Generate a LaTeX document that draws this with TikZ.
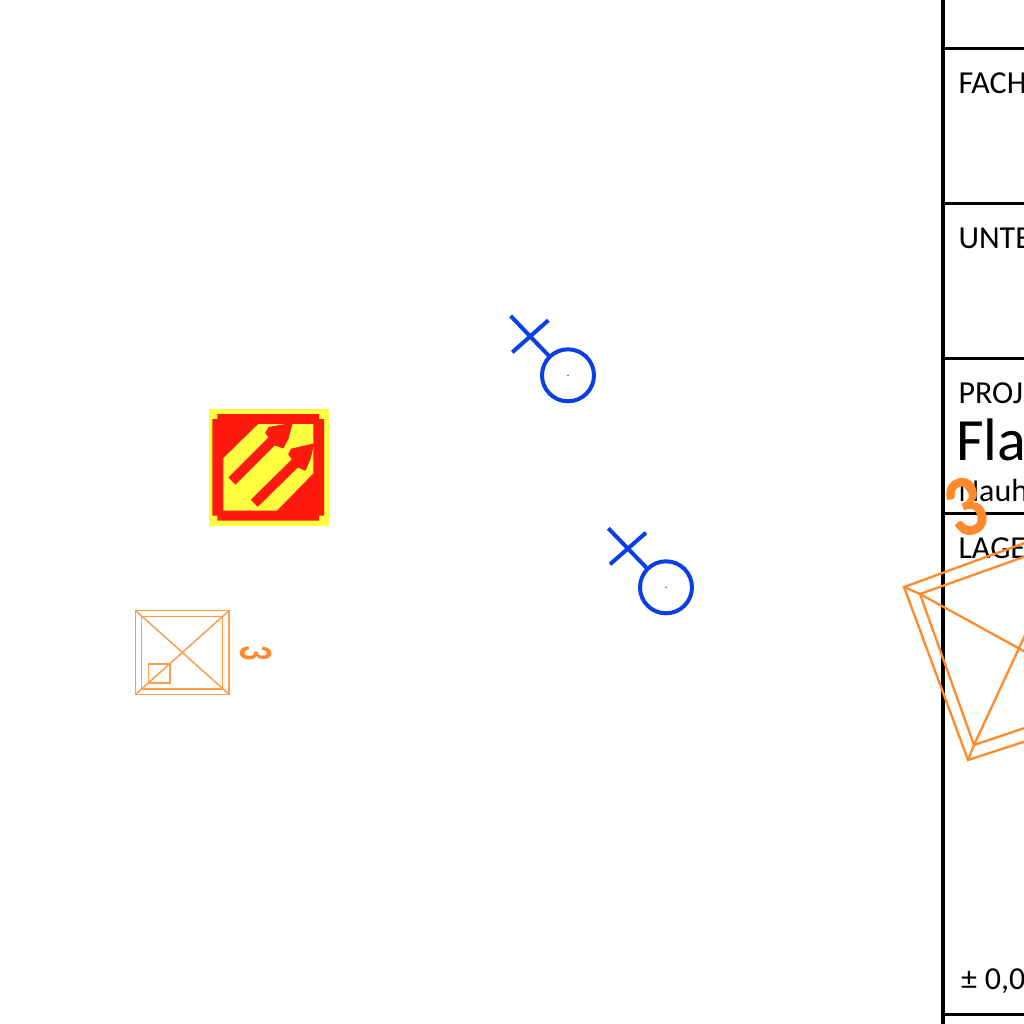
\documentclass[tikz,border=0pt]{standalone}
\usepackage{fontspec}
\setmainfont{Carlito}
\newfontfamily\digitfont{Carlito}
\definecolor{ora}{HTML}{FF8A2B}
\definecolor{blu}{HTML}{0A3FE6}
\definecolor{signred}{HTML}{FF1A10}
\definecolor{signyel}{HTML}{FFFF40}
\tikzset{
  rule/.style={draw=black,line width=2.8pt},
  frame/.style={draw=black,line width=4pt},
  lab/.style={anchor=base west,inner sep=0pt,outer sep=0pt,font=\fontsize{32}{32}\selectfont},
  biglab/.style={anchor=base west,inner sep=0pt,outer sep=0pt,font=\fontsize{60}{60}\selectfont},
  plan/.style={draw=ora!85,line width=1.5pt,line join=miter},
  planbig/.style={draw=ora,line width=2.3pt},
  sym/.style={draw=blu,line width=4pt},
  signline/.style={draw=signred,line width=10pt},
  signhead/.style={fill=signred,draw=signred,line width=1.5pt,line join=round}
}
\begin{document}
\begin{tikzpicture}[x=1pt,y=-1pt]
\useasboundingbox (0,0) rectangle (1024,1024);
\clip (0,0) rectangle (1024,1024);
\fill[white] (0,0) rectangle (1024,1024);
% title block
\draw[rule] (943,48.5) -- (1024,48.5);
\draw[rule] (943,203.5) -- (1024,203.5);
\draw[rule] (943,358.5) -- (1024,358.5);
\draw[rule] (943,513.5) -- (1024,513.5);
\draw[rule] (943,1014.5) -- (1024,1014.5);
\draw[frame] (943,0) -- (943,1024);
\node[lab] (fach) at (958.5,94) {FACH};
\node[lab] (unte) at (958.5,248) {UNTE};
\node[lab] (proj) at (958.5,403) {PROJ};
\node[biglab] (fla) at (956,460) {Fla};
\node[lab] (nauh) at (958.5,501) {Nauh};
\node[lab] (lage) at (958.5,558) {LAGE};
\node[lab] (level) at (961,989) {±\hspace{8pt}0,0};
% sign
\fill[signyel] (209,409) rectangle (329,526);
\fill[signred] (217.3,414) -- (319,414) -- (319,419) -- (324,419) -- (324,515.7) -- (319,515.7) -- (319,520.7) -- (217.3,520.7) -- (217.3,515.7) -- (212.3,515.7) -- (212.3,419) -- (217.3,419) -- cycle;
\fill[signyel] (258.3,424) -- (313.3,424) -- (313.3,473.3) -- (276.7,510.7) -- (223.3,510.7) -- (223.3,458.3) -- cycle;
\draw[signline] (232,481) -- (275,438);
\fill[signhead] (266,433) -- (269,427.7) -- (291.7,423.7) -- (288,438) -- (283,447.7) -- (276,445) -- cycle;
\draw[signline] (254.3,503.3) -- (298.3,460);
\fill[signhead] (289,454.3) -- (291.7,449.3) -- (313.3,444.3) -- (310,458.3) -- (305,470) -- (298.3,466.7) -- cycle;
% small pyramid
\draw[plan] (135.7,610.7) rectangle (229,694.3);
\draw[plan] (141.7,616.7) rectangle (222.7,689);
\draw[plan] (135.7,610.7) -- (229,694.3);
\draw[plan] (229,610.7) -- (135.7,694.3);
\draw[plan] (148.7,664) rectangle (170,683);
\node[inner sep=0pt,text=ora,rotate=-90,font=\digitfont\bfseries\fontsize{24}{24}\selectfont] (tinythree) at (256,653) {\scalebox{1.25}[2.0]{3}};
% blue symbols
\draw[sym] (568,375.3) circle (26);
\draw[sym] (510.7,316) -- (549,356);
\draw[sym] (548.3,320.3) -- (512.3,352.3);
\fill[blu] (568,375.3) circle (.8);
\draw[sym] (666,587.3) circle (26);
\draw[sym] (608.3,528.3) -- (647,568.3);
\draw[sym] (646,532.7) -- (610,564.3);
\fill[blu] (666,587.3) circle (.8);
% big pyramid
\draw[planbig] (1060,530) -- (904,587) -- (968,760) -- (1060,730);
\draw[planbig] (1060,544) -- (920,594) -- (974,745) -- (1060,716);
\draw[planbig] (904,587) -- (920,594) -- (1060,671);
\draw[planbig] (968,760) -- (974,745) -- (1060,560);
\node[inner sep=0pt,text=ora,rotate=20,font=\digitfont\bfseries\fontsize{86}{86}\selectfont] (bigthree) at (966,507) {\scalebox{.88}[1.02]{3}};
\end{tikzpicture}
\end{document}
